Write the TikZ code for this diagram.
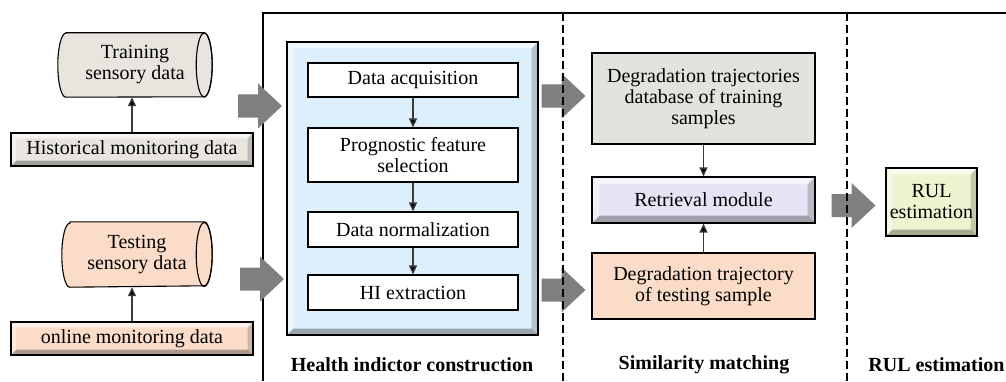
\documentclass[tikz,border=0pt]{standalone}
\usepackage{fontspec}
\setmainfont{Liberation Serif}
\usetikzlibrary{calc,backgrounds,arrows.meta}

\definecolor{histfill}{HTML}{E7E5DE}
\definecolor{dbfill}{HTML}{E4E2DC}
\definecolor{peach}{HTML}{FBDCC9}
\definecolor{hiblue}{HTML}{DDEFFA}
\definecolor{lavender}{HTML}{E6E4F4}
\definecolor{rulgreen}{HTML}{EEF4D0}
\definecolor{fatgray}{HTML}{7F7F7F}
\definecolor{linkgray}{HTML}{3A3A3A}

\tikzset{
  txt/.style={font=\fontsize{20}{21}\selectfont, align=center, inner sep=0pt},
  heading/.style={font=\bfseries\fontsize{20}{21}\selectfont, inner sep=0pt},
  plainbox/.style={txt, draw=black, line width=1.1pt},
  flowlink/.style={draw=linkgray, line width=1.3pt, -{Triangle[length=9pt,width=8pt,fill=black]}},
  sep/.style={line width=1.3pt},
  fatarrow/.pic={\fill[fatgray] (-22,-11.5) -- (-2,-11.5) -- (-2,-22.5) -- (22,0)
                 -- (-2,22.5) -- (-2,11.5) -- (-22,11.5) -- cycle;}
}

% bevelled fill behind a node: colour body, light top/left, dark bottom/right
\newcommand\bevelfill[3]{%
  \begin{scope}[on background layer]
    \fill[#2] (#1.south west) rectangle (#1.north east);
    \fill[white,opacity=.6] (#1.north west) -- (#1.north east) -- ($(#1.north east)+(-#3,-#3)$) -- ($(#1.north west)+(#3,-#3)$) -- cycle;
    \fill[white,opacity=.45] (#1.north west) -- ($(#1.north west)+(#3,-#3)$) -- ($(#1.south west)+(#3,#3)$) -- (#1.south west) -- cycle;
    \fill[black,opacity=.3] (#1.south west) -- (#1.south east) -- ($(#1.south east)+(-#3,#3)$) -- ($(#1.south west)+(#3,#3)$) -- cycle;
    \fill[black,opacity=.18] (#1.north east) -- (#1.south east) -- ($(#1.south east)+(-#3,#3)$) -- ($(#1.north east)+(-#3,-#3)$) -- cycle;
  \end{scope}}

% horizontal storage cylinder drawn round a node
\newcommand\cylinderaround[2]{%
  \begin{scope}[on background layer]
    \filldraw[fill=#2, draw=black, line width=1.1pt]
      ($(#1.north west)+(8,0)$) -- ($(#1.north east)+(-8,0)$)
      arc[start angle=90, end angle=-90, x radius=8, y radius=32]
      -- ($(#1.south west)+(8,0)$)
      arc[start angle=270, end angle=90, x radius=8, y radius=32] -- cycle;
    \draw[line width=1.1pt] ($(#1.east)+(-8,0)$) ellipse[x radius=8, y radius=32];
  \end{scope}}

\begin{document}
\begin{tikzpicture}[x=1pt, y=1pt]
\useasboundingbox (0,0) rectangle (1006,381);

% ---- sensory data sources ----
\node[txt, minimum width=154, minimum height=64] (train) at (135,316) {Training\\sensory data};
\node[plainbox, minimum width=242, minimum height=33] (hist) at (132,231.5) {Historical monitoring data};
\node[txt, minimum width=150, minimum height=65] (test) at (137,126.5) {Testing\\sensory data};
\node[plainbox, minimum width=242, minimum height=33] (online) at (132,42.5) {online monitoring data};

\cylinderaround{train}{histfill}
\cylinderaround{test}{peach}
\bevelfill{hist}{histfill}{6}
\bevelfill{online}{peach}{6}

\draw[flowlink] (hist.north) -- (hist.north |- train.south);
\draw[flowlink] (online.north) -- (online.north |- test.south);

% ---- health indicator construction ----
\node[plainbox, minimum width=251, minimum height=293] (hi) at (412.5,192.5) {};
\bevelfill{hi}{hiblue}{7}
\node[plainbox, fill=white, minimum width=210, minimum height=34] (acq) at (413,301) {Data acquisition};
\node[plainbox, fill=white, minimum width=210, minimum height=54] (prog) at (413,226) {Prognostic feature\\selection};
\node[plainbox, fill=white, minimum width=210, minimum height=35] (norm) at (413,151.5) {Data normalization};
\node[plainbox, fill=white, minimum width=210, minimum height=35] (hix) at (413,88.5) {HI extraction};
\draw[flowlink] (acq) -- (prog);
\draw[flowlink] (prog) -- (norm);
\draw[flowlink] (norm) -- (hix);
\node[heading] (hilabel) at (412,16) {Health indictor construction};

% ---- similarity matching ----
\node[plainbox, fill=dbfill, minimum width=223, minimum height=91] (db) at (703.5,282.5) {Degradation trajectories\\database of training\\samples};
\node[plainbox, minimum width=223, minimum height=46] (ret) at (703.5,181) {Retrieval module};
\bevelfill{ret}{lavender}{8}
\node[plainbox, fill=peach, minimum width=223, minimum height=66] (tst) at (703.5,95) {Degradation trajectory\\of testing sample};
\draw[flowlink] (db) -- (ret);
\draw[flowlink] (tst) -- (ret);
\node[heading] (simlabel) at (704,16) {Similarity matching};

% ---- RUL estimation ----
\node[plainbox, minimum width=91, minimum height=68] (rul) at (931.5,179) {RUL\\estimation};
\bevelfill{rul}{rulgreen}{7}
\node[heading] (rullabel) at (936.5,16) {RUL estimation};

% ---- stage frame ----
\coordinate (ftl) at (263,368);
\coordinate (fbl) at (263,0);
\coordinate (ftr) at (1006,368);
\draw[sep] (fbl) -- (ftl) -- (ftr);

% ---- block arrows between stages ----
\pic at (260,275) {fatarrow};
\pic at (262,102) {fatarrow};
\pic at (563.5,285) {fatarrow};
\pic at (563.5,91) {fatarrow};
\pic at (853.5,175.5) {fatarrow};

% ---- dashed stage separators ----
\coordinate (d1t) at (563,368);
\coordinate (d1b) at (563,0);
\coordinate (d2t) at (847,368);
\coordinate (d2b) at (847,0);
\draw[sep, dash pattern=on 8pt off 4pt] (d1t) -- (d1b);
\draw[sep, dash pattern=on 8pt off 4pt] (d2t) -- (d2b);
\end{tikzpicture}
\end{document}
